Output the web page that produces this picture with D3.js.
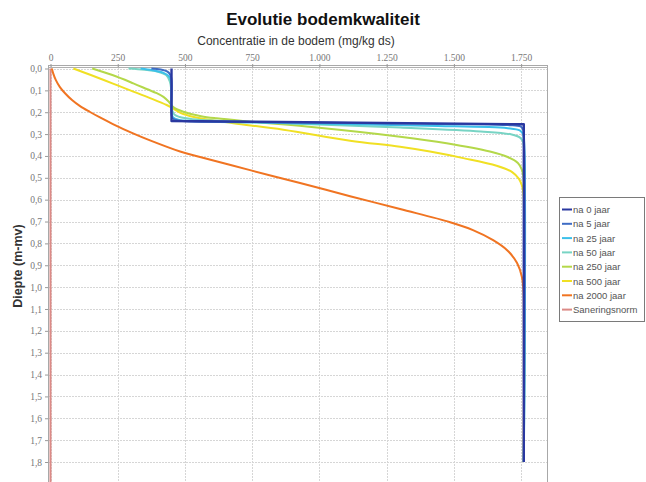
<!DOCTYPE html>
<html>
<head>
<meta charset="utf-8">
<script src="https://cdn.jsdelivr.net/npm/d3@7"></script>
<style>
  html, body { margin: 0; padding: 0; background: #fff; }
  svg { display: block; font-family: "Liberation Sans", Arial, sans-serif; }
</style>
</head>
<body>
<script>
// Depth profiles: [concentration (mg/kg ds), depth (m-mv)]
const na0jaar = [[450,0],[450,0.24],[1760,0.255],[1760,1.8]];
const na5jaar = [[375,0],[410,0.005],[435,0.014],[446,0.03],[450,0.05],[450,0.21],[454,0.228],[475,0.238],[700,0.244],[1200,0.251],[1700,0.259],[1748,0.265],[1757,0.278],[1760,0.3],[1760,1.8]];
const na25jaar = [[335,0],[380,0.008],[420,0.02],[440,0.035],[448,0.055],[450,0.08],[450,0.2],[455,0.222],[475,0.234],[550,0.241],[900,0.25],[1400,0.262],[1700,0.273],[1745,0.283],[1756,0.298],[1760,0.32],[1760,1.8]];
const na50jaar = [[290,0],[350,0.006],[400,0.015],[430,0.03],[444,0.06],[449,0.1],[450,0.18],[460,0.21],[480,0.222],[530,0.232],[620,0.239],[866,0.25],[1300,0.27],[1600,0.288],[1715,0.302],[1746,0.316],[1756,0.332],[1760,0.355],[1760,1.8]];
const na250jaar = [[155,0],[230,0.03],[308,0.068],[360,0.095],[395,0.113],[420,0.13],[440,0.152],[458,0.178],[494,0.198],[560,0.218],[618,0.228],[742,0.243],[990,0.27],[1300,0.312],[1473,0.342],[1634,0.38],[1700,0.405],[1738,0.432],[1752,0.46],[1758,0.49],[1760,0.52],[1760,1.8]];
const na500jaar = [[85,0],[150,0.03],[230,0.068],[308,0.106],[380,0.14],[432,0.167],[452,0.18],[472,0.195],[494,0.208],[556,0.228],[680,0.25],[866,0.28],[1114,0.33],[1300,0.358],[1411,0.38],[1535,0.41],[1659,0.445],[1718,0.475],[1742,0.505],[1753,0.535],[1758,0.565],[1760,0.6],[1760,1.8]];
const na2000jaar = [[5,0],[10,0.022],[20,0.053],[35,0.085],[54,0.113],[80,0.144],[110,0.172],[147,0.199],[184,0.224],[232,0.254],[307,0.297],[370,0.329],[482,0.38],[556,0.405],[742,0.465],[928,0.524],[1114,0.584],[1300,0.643],[1486,0.703],[1571,0.739],[1646,0.785],[1698,0.831],[1735,0.89],[1753,0.954],[1759,1.027],[1760,1.1],[1760,1.8]];
const saneringsnorm = [[0,0],[0,1.95]];

const seriesNames = ["na 0 jaar","na 5 jaar","na 25 jaar","na 50 jaar","na 250 jaar","na 500 jaar","na 2000 jaar","Saneringsnorm"];
const seriesColors = ["#2a38a0","#3e6cc4","#3cc0ea","#78d4c4","#b4d84a","#f0e024","#f07422","#dc8a86"];
const seriesData = [na0jaar,na5jaar,na25jaar,na50jaar,na250jaar,na500jaar,na2000jaar,saneringsnorm];

const xTicks = [0,250,500,750,1000,1250,1500,1750];
const yTicks = [0,0.1,0.2,0.3,0.4,0.5,0.6,0.7,0.8,0.9,1.0,1.1,1.2,1.3,1.4,1.5,1.6,1.7,1.8];

const W = 646, H = 482;
const plot = { left: 48, right: 548, top: 65, bottom: 495 };

const nl = d3.formatLocale({ decimal: ",", thousands: ".", grouping: [3], currency: ["€", ""] });
const fmtX = nl.format(",.0f");
const fmtY = nl.format(".1f");

const x = d3.scaleLinear().domain([0, 1850]).range([50.5, 548]);
const y = d3.scaleLinear().domain([0, 1.8]).range([68.5, 462]);

const svg = d3.select("body").append("svg").attr("width", W).attr("height", H);

svg.append("text").attr("x", 323).attr("y", 25).attr("text-anchor", "middle")
  .attr("font-size", 17).attr("font-weight", "bold").attr("fill", "#111")
  .text("Evolutie bodemkwaliteit");

svg.append("text").attr("x", 296).attr("y", 45).attr("text-anchor", "middle")
  .attr("font-size", 12).attr("fill", "#333")
  .text("Concentratie in de bodem (mg/kg ds)");

svg.append("text").attr("transform", "translate(22,266) rotate(-90)")
  .attr("text-anchor", "middle").attr("font-size", 12.5).attr("font-weight", "bold").attr("fill", "#333")
  .text("Diepte (m-mv)");

// plot background
svg.append("rect").attr("x", plot.left).attr("y", plot.top)
  .attr("width", plot.right - plot.left).attr("height", plot.bottom - plot.top)
  .attr("fill", "#fff");

// gridlines
const grid = svg.append("g").attr("stroke", "#d6d6d6").attr("stroke-width", 1).attr("stroke-dasharray", "2,1");
grid.selectAll("line.v").data(xTicks).join("line")
  .attr("x1", d => Math.round(x(d)) + 0.5).attr("x2", d => Math.round(x(d)) + 0.5)
  .attr("y1", plot.top).attr("y2", plot.bottom);
grid.selectAll("line.h").data(yTicks).join("line")
  .attr("y1", d => Math.round(y(d)) + 0.5).attr("y2", d => Math.round(y(d)) + 0.5)
  .attr("x1", plot.left).attr("x2", plot.right);

// plot outline
svg.append("rect").attr("x", plot.left + 0.5).attr("y", plot.top + 0.5)
  .attr("width", plot.right - plot.left - 1).attr("height", plot.bottom - plot.top)
  .attr("fill", "none").attr("stroke", "#a8a8a8");

// axes
const xAxis = svg.append("g").attr("transform", `translate(0,${plot.top + 2})`)
  .call(d3.axisTop(x).tickValues(xTicks).tickFormat(fmtX).tickSize(3).tickPadding(3).tickSizeOuter(0));
xAxis.select(".domain").attr("stroke", "#b0b0b0").attr("d", `M${plot.left},0.5H${plot.right}`);
xAxis.selectAll(".tick line").attr("stroke", "#999");
xAxis.selectAll("text").attr("font-size", 9.5).attr("fill", "#777").attr("font-family", "'Liberation Serif', serif");

const yAxis = svg.append("g").attr("transform", `translate(${plot.left},0)`)
  .call(d3.axisLeft(y).tickValues(yTicks).tickFormat(fmtY).tickSize(3).tickPadding(3).tickSizeOuter(0));
yAxis.select(".domain").attr("stroke", "#a8a8a8").attr("d", `M0.5,${plot.top}V${plot.bottom}`);
yAxis.selectAll(".tick line").attr("stroke", "#999");
yAxis.selectAll("text").attr("font-size", 9.5).attr("fill", "#777").attr("font-family", "'Liberation Serif', serif");

// series, drawn last-to-first so the first series sits on top
svg.append("clipPath").attr("id", "plotclip").append("rect")
  .attr("x", plot.left).attr("y", plot.top).attr("width", plot.right - plot.left).attr("height", plot.bottom - plot.top);

const lineSmooth = d3.line().x(d => x(d[0])).y(d => y(d[1])).curve(d3.curveCatmullRom.alpha(0.5));
const lineStraight = d3.line().x(d => x(d[0])).y(d => y(d[1]));

const lines = svg.append("g").attr("clip-path", "url(#plotclip)").attr("fill", "none")
  .attr("stroke-linejoin", "round").attr("stroke-linecap", "butt");
for (let i = seriesData.length - 1; i >= 0; i--) {
  const gen = (i === 0 || i === 7) ? lineStraight : lineSmooth;
  lines.append("path").attr("d", gen(seriesData[i]))
    .attr("stroke", seriesColors[i]).attr("stroke-width", i === 0 ? 2.4 : 2);
}

// legend
const lg = svg.append("g").attr("transform", "translate(559,197)");
lg.append("rect").attr("x", 0.5).attr("y", 0.5).attr("width", 85).attr("height", 124)
  .attr("fill", "#fff").attr("stroke", "#7a7a7a");
const items = lg.selectAll("g.item").data(seriesNames).join("g")
  .attr("transform", (d, i) => `translate(0,${12.5 + i * 14.3})`);
items.append("line").attr("x1", 3).attr("x2", 13).attr("y1", 0).attr("y2", 0)
  .attr("stroke", (d, i) => seriesColors[i]).attr("stroke-width", 2);
items.append("text").attr("x", 14).attr("y", 3.5).attr("font-size", 9.5).attr("fill", "#555")
  .text(d => d);
</script>
</body>
</html>
